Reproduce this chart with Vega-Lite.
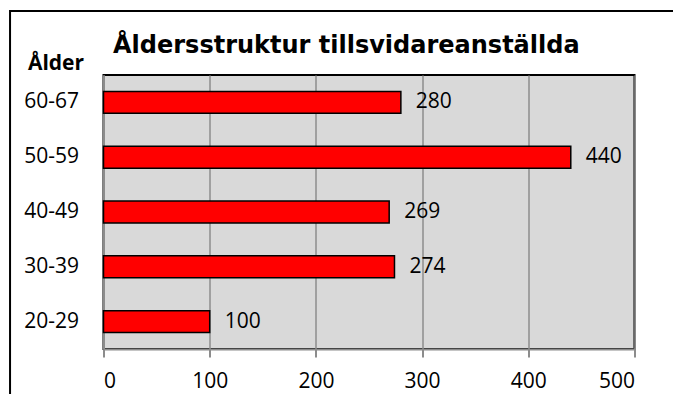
{
  "$schema": "https://vega.github.io/schema/vega-lite/v6.json",
  "width": 531,
  "height": 274,
  "autosize": "none",
  "padding": {"left": 103.5, "top": 75, "right": 38.5, "bottom": 45},
  "background": "white",
  "title": {
    "text": "Åldersstruktur tillsvidareanställda",
    "anchor": "start",
    "frame": "group",
    "font": "DejaVu Sans",
    "fontWeight": "bold",
    "fontSize": 24,
    "color": "black",
    "baseline": "alphabetic",
    "dx": 9.5,
    "dy": 67,
    "offset": 0
  },
  "config": {
    "view": {"fill": "#d9d9d9", "stroke": "black", "strokeWidth": 2},
    "axis": {
      "labelFont": "Open Sans",
      "labelFontSize": 21,
      "labelColor": "black",
      "titleFont": "Open Sans",
      "titleColor": "black"
    }
  },
  "layer": [
    {
      "data": {
        "values": [
          {"age": "60-67", "count": 280},
          {"age": "50-59", "count": 440},
          {"age": "40-49", "count": 269},
          {"age": "30-39", "count": 274},
          {"age": "20-29", "count": 100}
        ]
      },
      "encoding": {
        "y": {
          "field": "age",
          "type": "nominal",
          "sort": null,
          "scale": {"paddingInner": 0.6, "paddingOuter": 0.3},
          "axis": {
            "title": "Ålder",
            "titleFontWeight": "bold",
            "titleFontSize": 21,
            "titleAngle": 0,
            "titleAlign": "center",
            "titleBaseline": "alphabetic",
            "titleX": -48,
            "titleY": -6,
            "ticks": false,
            "labelPadding": 25,
            "domainColor": "#8c8c8c",
            "domainWidth": 2
          }
        },
        "x": {
          "field": "count",
          "type": "quantitative",
          "scale": {"domain": [0, 500], "nice": false},
          "axis": {
            "title": null,
            "values": [0, 100, 200, 300, 400, 500],
            "grid": true,
            "gridColor": "#8c8c8c",
            "gridWidth": 1.5,
            "domainColor": "#8c8c8c",
            "domainWidth": 2,
            "tickColor": "#8c8c8c",
            "tickWidth": 2,
            "tickSize": 8,
            "labelPadding": 13
          }
        }
      },
      "layer": [
        {
          "mark": {"type": "bar", "color": "#ff0000", "stroke": "black", "strokeWidth": 1.5}
        },
        {
          "mark": {
            "type": "text",
            "align": "left",
            "baseline": "middle",
            "dx": 15,
            "font": "Open Sans",
            "fontSize": 21,
            "color": "black"
          },
          "encoding": {"text": {"field": "count", "type": "quantitative"}}
        }
      ]
    },
    {
      "data": {"values": [{"frame": 1}]},
      "mark": {"type": "rect", "fillOpacity": 0, "stroke": "black", "strokeWidth": 2},
      "encoding": {
        "x": {"datum": -88, "type": "quantitative", "scale": {"domain": [0, 500], "nice": false}},
        "x2": {"datum": 580},
        "y": {"datum": 338, "type": "quantitative", "scale": {"domain": [0, 274], "nice": false}, "axis": null},
        "y2": {"datum": -120}
      }
    }
  ],
  "resolve": {"scale": {"y": "independent"}}
}
